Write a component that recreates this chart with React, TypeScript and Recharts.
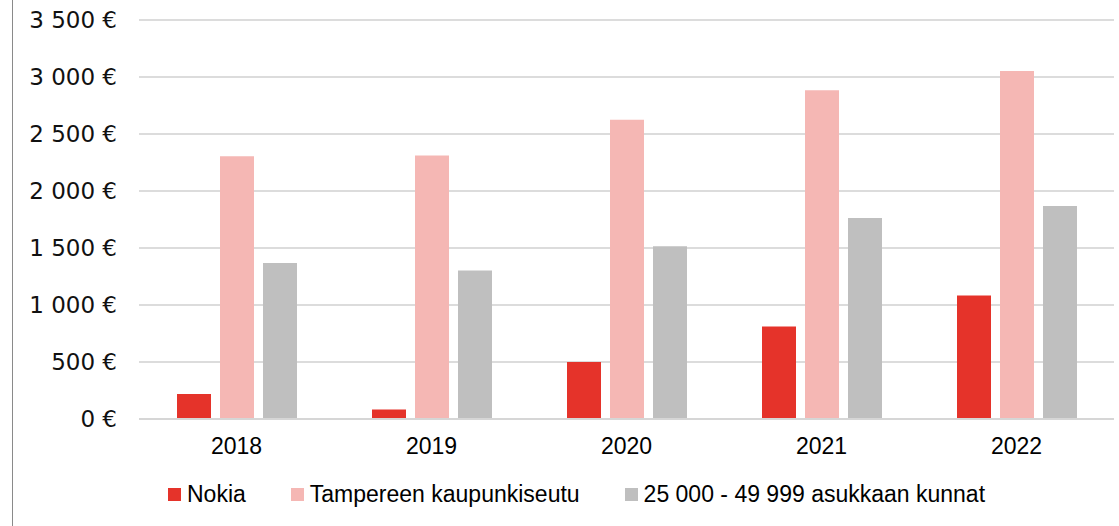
import React from "react";
import { BarChart, Bar, XAxis, YAxis, CartesianGrid, Legend } from "recharts";

const years = ["2018", "2019", "2020", "2021", "2022"];
const nokia = [220, 83, 500, 811, 1083];
const tampere = [2305, 2311, 2626, 2883, 3053];
const kunnat = [1369, 1302, 1515, 1763, 1868];
const yTicks = [0, 500, 1000, 1500, 2000, 2500, 3000, 3500];
const seriesNames = ["Nokia", "Tampereen kaupunkiseutu", "25 000 - 49 999 asukkaan kunnat"];
const seriesColors = ["#e5332a", "#f5b7b4", "#bfbfbf"];

const data = years.map((y, i) => ({
  year: y,
  nokia: nokia[i],
  tampere: tampere[i],
  kunnat: kunnat[i],
}));

const fmt = (v: number) => {
  const s = String(v);
  const withSep = s.length > 3 ? s.slice(0, s.length - 3) + " " + s.slice(s.length - 3) : s;
  return withSep + " €";
};

const LegendContent = () => (
  <div style={{ display: "flex", alignItems: "center", fontFamily: "'Liberation Sans', Arial, sans-serif", fontSize: 23, color: "#000", whiteSpace: "nowrap" }}>
    {seriesNames.map((n, i) => (
      <div key={n} style={{ display: "flex", alignItems: "center", marginRight: 45 }}>
        <div style={{ width: 13, height: 13, background: seriesColors[i], marginRight: 6 }} />
        <span>{n}</span>
      </div>
    ))}
  </div>
);

export default function App() {
  return (
    <div style={{ position: "absolute", left: 0, top: 0, width: 1119, height: 526, background: "#fff" }}>
      <div style={{ position: "absolute", left: 12, top: 0, width: 1, height: 526, background: "#8a8a8a" }} />
      <BarChart
        width={1119}
        height={526}
        data={data}
        margin={{ top: 20, right: 5, bottom: 57, left: 0 }}
        barGap={9}
        barSize={34}
      >
        <CartesianGrid vertical={false} stroke="#dcdcdc" strokeWidth={2} />
        <XAxis
          dataKey="year"
          axisLine={{ stroke: "#d6d6d6", strokeWidth: 2 }}
          tickLine={false}
          tickSize={0}
          tickMargin={19}
          tick={{ fill: "#000", fontSize: 23, fontFamily: "'Liberation Sans', Arial, sans-serif" }}
          height={50}
        />
        <YAxis
          width={139}
          domain={[0, 3500]}
          ticks={yTicks}
          tickFormatter={fmt}
          axisLine={false}
          tickLine={false}
          tickSize={0}
          tickMargin={22}
          tick={{ fill: "#111", fontSize: 23, fontFamily: "'DejaVu Sans', sans-serif" }}
        />
        <Legend
          layout="vertical"
          align="center"
          verticalAlign="middle"
          content={<LegendContent />}
          wrapperStyle={{ left: 168, top: 481, width: "auto" }}
        />
        <Bar dataKey="nokia" name={seriesNames[0]} fill={seriesColors[0]} isAnimationActive={false} />
        <Bar dataKey="tampere" name={seriesNames[1]} fill={seriesColors[1]} isAnimationActive={false} />
        <Bar dataKey="kunnat" name={seriesNames[2]} fill={seriesColors[2]} isAnimationActive={false} />
      </BarChart>
    </div>
  );
}
